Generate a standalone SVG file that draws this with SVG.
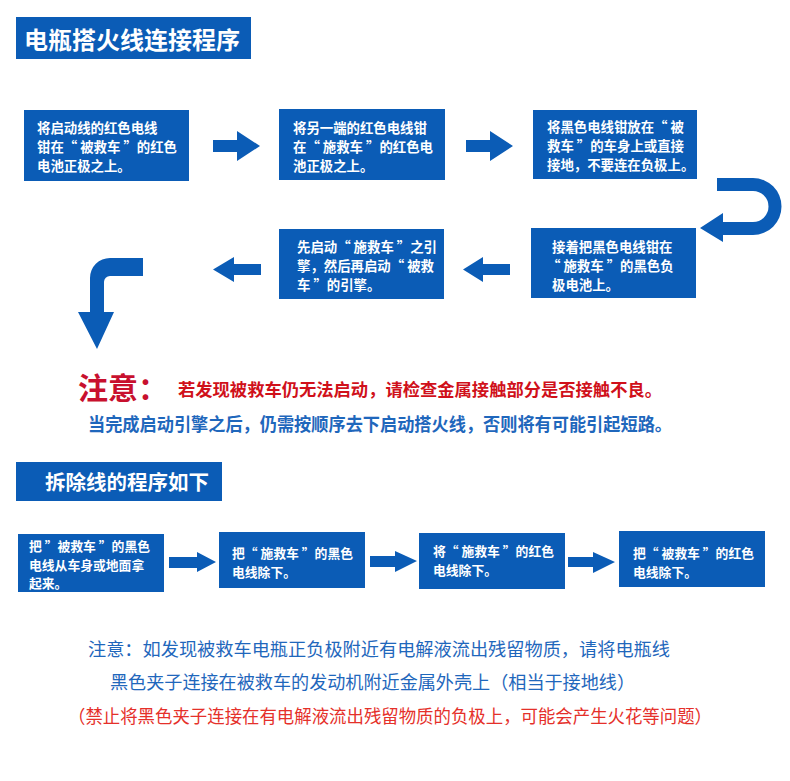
<svg xmlns="http://www.w3.org/2000/svg" width="790" height="781" viewBox="0 0 790 781">
<style>
.box{fill:#0B5CB6}
.arw{fill:#0B5CB6}
.bt{font-family:"Noto Sans CJK SC","Noto Sans",sans-serif;font-size:13.4px;font-weight:bold;fill:#fff}
.bs{font-family:"Noto Sans CJK SC","Noto Sans",sans-serif;font-size:12.8px;font-weight:bold;fill:#fff}
.tt{font-family:"Noto Sans CJK SC","Noto Sans",sans-serif;font-weight:bold;fill:#fff}
.nt{font-family:"Noto Sans CJK SC","Noto Sans",sans-serif}
</style>
<rect width="790" height="781" fill="#fff"/>
<g id="title1"><rect x="16" y="17" width="235" height="42" class="box"/><text x="24" y="49" class="tt" font-size="24">电瓶搭火线连接程序</text></g>
<g id="n1"><rect x="24" y="110" width="165" height="71" class="box"/>
<text class="bt"><tspan x="37" y="133">将启动线的红色电线</tspan><tspan x="37" y="152">钳在“ 被救车 ”的红色</tspan><tspan x="37" y="171">电池正极之上。</tspan></text></g>
<g id="n2"><rect x="279" y="109" width="166" height="71" class="box"/>
<text class="bt"><tspan x="293" y="133">将另一端的红色电线钳</tspan><tspan x="293" y="152">在“ 施救车 ”的红色电</tspan><tspan x="293" y="171">池正极之上。</tspan></text></g>
<g id="n3"><rect x="533" y="110" width="164" height="69" class="box"/>
<text class="bt"><tspan x="547" y="132">将黑色电线钳放在“ 被</tspan><tspan x="547" y="151">救车 ”的车身上或直接</tspan><tspan x="547" y="170">接地，不要连在负极上。</tspan></text></g>
<g id="n4"><rect x="531" y="228" width="165" height="70" class="box"/>
<text class="bt"><tspan x="552" y="252">接着把黑色电线钳在</tspan><tspan x="547" y="271">“ 施救车 ”的黑色负</tspan><tspan x="552" y="290">极电池上。</tspan></text></g>
<g id="n5"><rect x="279" y="229" width="165" height="70" class="box"/>
<text class="bt"><tspan x="297" y="252">先启动“ 施救车 ”之引</tspan><tspan x="297" y="271">擎，然后再启动“ 被救</tspan><tspan x="297" y="290">车 ”的引擎。</tspan></text></g>
<g id="note1">
<text x="78" y="399" class="nt" font-size="30" font-weight="bold" fill="#C8102E">注意：</text>
<text x="178" y="396" class="nt" font-size="17" font-weight="bold" fill="#D0101A" textLength="484" lengthAdjust="spacingAndGlyphs">若发现被救车仍无法启动，请检查金属接触部分是否接触不良。</text>
<text x="88" y="431" class="nt" font-size="18" font-weight="bold" fill="#1F67BC" textLength="584" lengthAdjust="spacingAndGlyphs">当完成启动引擎之后，仍需按顺序去下启动搭火线，否则将有可能引起短路。</text>
</g>
<g id="title2"><rect x="16" y="462" width="206" height="39" class="box"/><text x="45" y="490" class="tt" font-size="20.5">拆除线的程序如下</text></g>
<g id="r1"><rect x="18" y="534" width="146" height="58" class="box"/>
<text class="bs"><tspan x="29" y="551">把 ”被救车 ”的黑色</tspan><tspan x="29" y="569.5">电线从车身或地面拿</tspan><tspan x="29" y="588">起来。</tspan></text></g>
<g id="r2"><rect x="219" y="532" width="146" height="56" class="box"/>
<text class="bs"><tspan x="232" y="557.5">把“ 施救车 ”的黑色</tspan><tspan x="232" y="576.5">电线除下。</tspan></text></g>
<g id="r3"><rect x="419" y="533" width="146" height="56" class="box"/>
<text class="bs"><tspan x="433" y="556">将“ 施救车 ”的红色</tspan><tspan x="433" y="575">电线除下。</tspan></text></g>
<g id="r4"><rect x="619" y="531" width="146" height="56" class="box"/>
<text class="bs"><tspan x="633" y="557.5">把“ 被救车 ”的红色</tspan><tspan x="633" y="576.5">电线除下。</tspan></text></g>
<g id="note2" class="nt" font-size="18">
<text x="88" y="656" fill="#1F67BC" textLength="582" lengthAdjust="spacingAndGlyphs">注意：如发现被救车电瓶正负极附近有电解液流出残留物质，请将电瓶线</text>
<text x="110" y="689" fill="#1F67BC" textLength="525" lengthAdjust="spacingAndGlyphs">黑色夹子连接在被救车的发动机附近金属外壳上（相当于接地线）</text>
<text x="68" y="723" fill="#E5302A" textLength="644" lengthAdjust="spacingAndGlyphs">（禁止将黑色夹子连接在有电解液流出残留物质的负极上，可能会产生火花等问题）</text>
</g>
<g id="connectors" class="arw">
<path d="M213,140 H237 V131 L260,146 L237,161 V152 H213 Z"/>
<path d="M466,140 H490 V131 L513,146 L490,161 V152 H466 Z"/>
<path d="M717,178 H753 A28.5,28.5 0 0 1 753,235 H723 V242 L700,228 L723,213 V222 H753 A15.5,15.5 0 0 0 753,191 H717 Z"/>
<path d="M510,264 H483 V257 L463,269.5 L483,282 V275 H510 Z"/>
<path d="M261,264 H234 V257 L213,269.5 L234,282 V275 H261 Z"/>
<path d="M143,258 H110 A20,20 0 0 0 90,278 V312 H78 L97,349 L114,312 H104 V282 A6,6 0 0 1 110,276 H143 Z"/>
<path d="M169,557 H197 V552 L216,562 L197,572 V568 H169 Z"/>
<path d="M370,556 H395 V551 L417,561 L395,572 V567 H370 Z"/>
<path d="M568,557 H593 V552 L615,562 L593,573 V567 H568 Z"/>
</g>
</svg>
